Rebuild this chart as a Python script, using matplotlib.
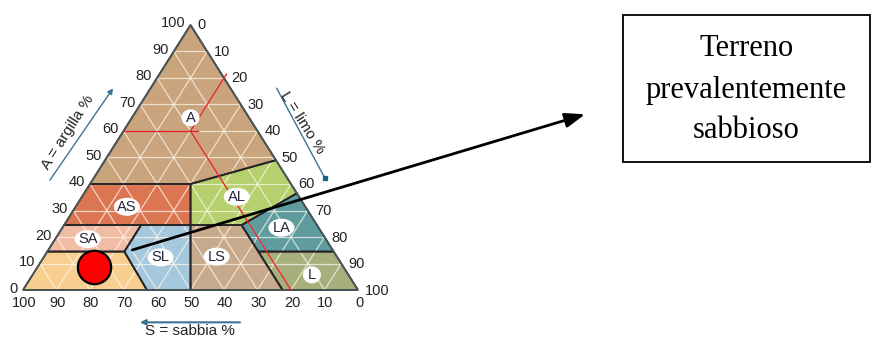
import matplotlib
matplotlib.use("Agg")
import matplotlib.pyplot as plt
from matplotlib.patches import Polygon, Rectangle, Ellipse
import numpy as np

# ---------------- data (ternary: sand, clay, silt in %) ----------------
tick_values = [0, 10, 20, 30, 40, 50, 60, 70, 80, 90, 100]

class_names = ["A", "AS", "SA", "S", "SL", "LS", "AL", "LA", "L"]
class_colors = ["#c9a47c", "#dc7552", "#f0bca4", "#f8cf90", "#a5c8dc",
                "#c7a98b", "#b5d06c", "#5e9c9e", "#a7b07c"]
class_polys = {
    "A":  [(60, 40, 0), (0, 100, 0), (0, 49, 51), (30, 40, 30)],
    "AS": [(60, 40, 0), (30, 40, 30), (37.75, 24.5, 37.75), (75.5, 24.5, 0)],
    "SA": [(75.5, 24.5, 0), (52.5, 24.5, 23), (62.5, 14.5, 23), (85.5, 14.5, 0)],
    "S":  [(85.5, 14.5, 0), (62.5, 14.5, 23), (63, 0, 37), (100, 0, 0)],
    "SL": [(63, 0, 37), (50, 0, 50), (37.75, 24.5, 37.75), (52.5, 24.5, 23), (62.5, 14.5, 23)],
    "LS": [(50, 0, 50), (22.5, 0, 77.5), (22.5, 24.5, 53), (37.75, 24.5, 37.75)],
    "AL": [(37.75, 24.5, 37.75), (30, 40, 30), (0, 49, 51), (0, 36.5, 63.5), (22.5, 24.5, 53)],
    "LA": [(22.5, 24.5, 53), (0, 36.5, 63.5), (0, 14.5, 85.5), (22.5, 14.5, 63)],
    "L":  [(22.5, 14.5, 63), (0, 14.5, 85.5), (0, 0, 100), (22.5, 0, 77.5)],
}
label_pos = {
    "A": (17.5, 65, 17.5), "AS": (53.3, 31.4, 15.3), "SA": (71.1, 19.2, 9.7),
    "S": (77, 6, 17), "SL": (52.8, 12.3, 34.9), "LS": (35.9, 12.6, 51.5),
    "AL": (18.6, 35.2, 46.2), "LA": (11.1, 23.5, 65.4), "L": (10.9, 5.7, 83.4),
}
# example reading for class A (red guide lines)
example_point = (20, 60, 20)
# sample point (red circle)
sample_point = (74.5, 8.6, 16.9)

box_lines = ["Terreno", "prevalentemente", "sabbioso"]


def tern(sand, clay, silt):
    return silt + clay / 2.0, clay


fig = plt.figure(figsize=(8.72, 3.38), dpi=100)
ax = fig.add_axes([0, 0, 1, 1])
ax.set_xlim(-6.866, 253.43)
ax.set_ylim(-18.11, 109.43)
ax.axis("off")

px_x = 1 / 3.35
px_y = 1 / 2.65

# region fills
for name, col in zip(class_names, class_colors):
    pts = [tern(*p) for p in class_polys[name]]
    ax.add_patch(Polygon(pts, closed=True, fc=col, ec="none", zorder=1))

# white triangular grid
for k in tick_values[1:-1]:
    for a, b in [((100 - k, k, 0), (0, k, 100 - k)),
                 ((100 - k, 0, k), (0, 100 - k, k)),
                 ((k, 0, 100 - k), (k, 100 - k, 0))]:
        x0, y0 = tern(*a)
        x1, y1 = tern(*b)
        ax.plot([x0, x1], [y0, y1], color="#fffaf0", lw=0.9, alpha=0.7, zorder=2)

# region borders
for name in class_names:
    pts = [tern(*p) for p in class_polys[name]]
    ax.add_patch(Polygon(pts, closed=True, fc="none", ec="#262626", lw=1.3, zorder=3))

# triangle outline
tri = [tern(100, 0, 0), tern(0, 100, 0), tern(0, 0, 100)]
ax.add_patch(Polygon(tri, closed=True, fc="none", ec="#4b5a5d", lw=1.1, zorder=4))

# red guide lines
s, c, l = example_point
red = "#e3232c"
for a, b in [((100 - c, c, 0), (s - 2.2, c, l + 2.2)),
             ((-1.5, 81.5, l), (s, c, l)),
             ((s, c, l), (s, 0, 100 - s))]:
    x0, y0 = tern(*a)
    x1, y1 = tern(*b)
    ax.plot([x0, x1], [y0, y1], color=red, lw=1.0, zorder=5)

# class labels in white ellipses
for name in class_names:
    x, y = tern(*label_pos[name])
    w = (26 if len(name) > 1 else 18) * px_x
    h = (18 if len(name) > 1 else 17) * px_y
    ax.add_patch(Ellipse((x, y), w, h, fc="white", ec="none", zorder=6))
    ax.text(x, y, name, ha="center", va="center", fontsize=10.5,
            family="Liberation Sans", color="#23233a", zorder=7)

# tick labels
tick_font = dict(fontsize=10.5, family="Liberation Sans", color="#222222")
for v in tick_values:
    # left: clay
    x, y = tern(100 - v, v, 0)
    ax.text(x - 5 * px_x, y + 1.5 * px_y, str(v), ha="right", va="center", **tick_font)
    # right: silt
    x, y = tern(0, 100 - v, v)
    ax.text(x + 7 * px_x, y - 0.5 * px_y, str(v), ha="left", va="center", **tick_font)
    # bottom: sand
    x, y = tern(v, 0, 100 - v)
    ax.text(x + 1 * px_x, y - 13 * px_y, str(v), ha="center", va="center", **tick_font)

# axis titles with arrows
blue = "#3a7595"
title_font = dict(fontsize=11, family="Liberation Sans", color="#222222")
ax.text(13.43, 59.7, "A = argilla %", rotation=57.7, ha="center", va="center",
        rotation_mode="anchor", **title_font)
ax.annotate("", xy=(26.87, 76.1), xytext=(8.06, 41.5),
            arrowprops=dict(arrowstyle="-|>", color=blue, lw=1.0,
                            mutation_scale=8, shrinkA=0, shrinkB=0))
ax.text(83.28, 63.0, "L = limo %", rotation=-57.7, ha="center", va="center",
        rotation_mode="anchor", **title_font)
ax.plot([75.73, 90.15], [76.1, 42.15], color=blue, lw=1.0)
ax.plot([90.15], [42.15], marker="s", ms=3.5, color="#1f5f85")
ax.text(49.85, -15.6, "S = sabbia %", ha="center", va="center", **title_font)
ax.annotate("", xy=(34.9, -12.2), xytext=(64.78, -12.2),
            arrowprops=dict(arrowstyle="-|>", color=blue, lw=1.5,
                            mutation_scale=8, shrinkA=0, shrinkB=0))

# sample point
sx, sy = tern(*sample_point)
ax.plot([sx], [sy], marker="o", ms=24, mfc="#ff0000", mec="black", mew=1.6, zorder=8)

# callout arrow and box
ax.annotate("", xy=(167.8, 66.3), xytext=(32.6, 15.1),
            arrowprops=dict(arrowstyle="-|>,head_length=0.6,head_width=0.22",
                            color="black", lw=2.0, mutation_scale=20,
                            shrinkA=0, shrinkB=0), zorder=9)
ax.add_patch(Rectangle((179.0, 48.2), 252.8 - 179.0, 103.8 - 48.2,
                       fc="white", ec="black", lw=1.3, zorder=9))
for line, yy in zip(box_lines, [91.0, 75.4, 60.3]):
    ax.text(215.9, yy, line, ha="center", va="center", fontsize=22,
            family="Liberation Serif", color="black", zorder=10)

fig.savefig("out.png", dpi=100)
